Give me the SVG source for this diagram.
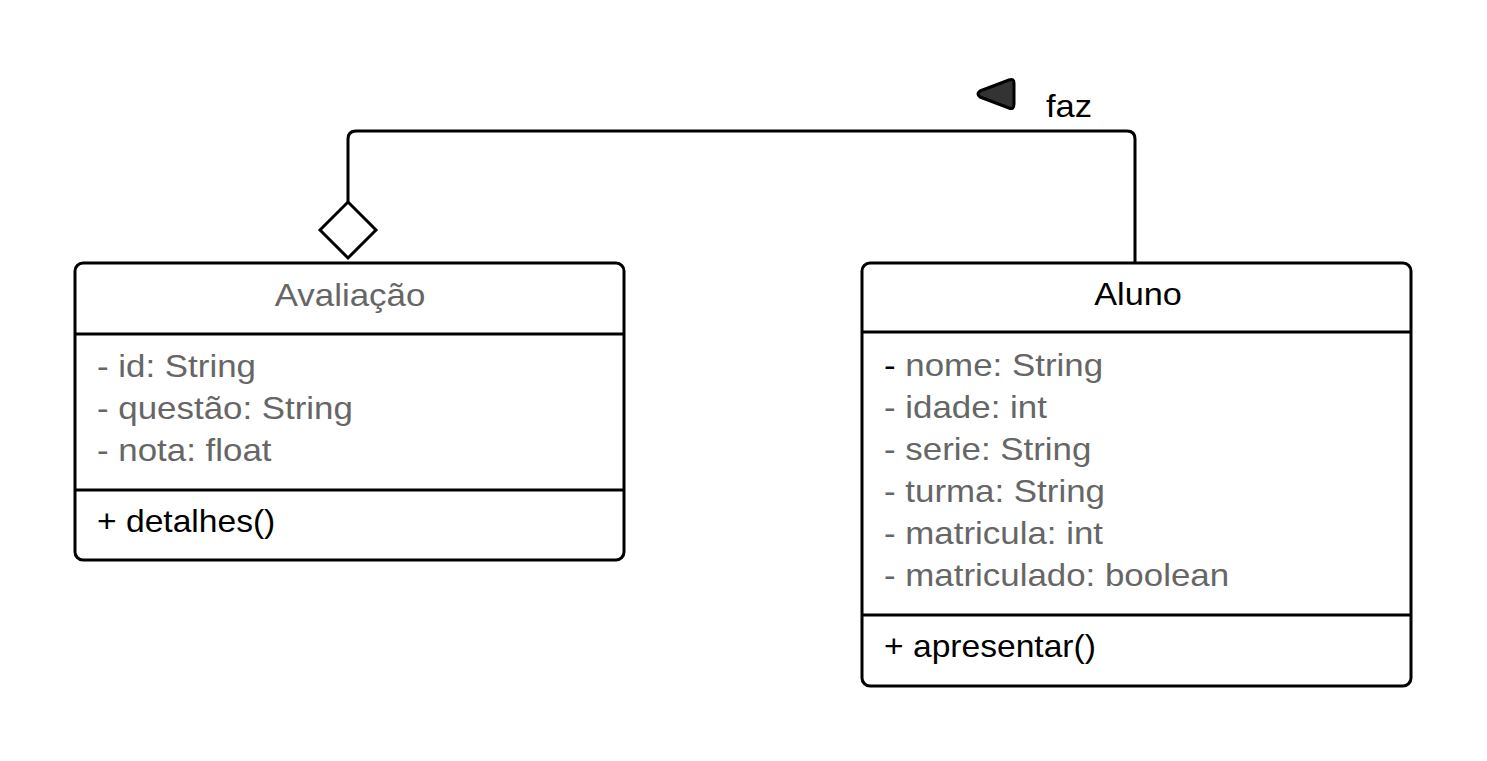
<svg xmlns="http://www.w3.org/2000/svg" width="1487" height="761" viewBox="0 0 1487 761">
<style>
.box{fill:#fff;stroke:#000;stroke-width:3}
.div{stroke:#000;stroke-width:3}
.t{font-family:"Liberation Sans",Arial,sans-serif;font-size:32px}
.g{fill:#666}
.k{fill:#000}
</style>
<rect width="1487" height="761" fill="#fff"/>
<g id="connectors">
<path d="M348 202 V139 Q348 131 356 131 H1127 Q1135 131 1135 139 V262" fill="none" stroke="#000" stroke-width="3"/>
<polygon points="348,202 376,230 348,258 320,230" fill="#fff" stroke="#000" stroke-width="3"/>
<path d="M980 91 L1009 80 Q1014 78 1014 83 V104 Q1014 110 1009 108 L980 97 Q976 94 980 91 Z" fill="#333" stroke="#000" stroke-width="3" stroke-linejoin="round"/>
<text class="t k" transform="translate(1046 117) scale(1.08 1)">faz</text>
</g>
<g id="avaliacao">
<rect class="box" x="75" y="263" width="549" height="297" rx="8"/>
<line class="div" x1="75" y1="334" x2="624" y2="334"/>
<line class="div" x1="75" y1="490" x2="624" y2="490"/>
<text class="t g" text-anchor="middle" transform="translate(350 306) scale(1.09 1)">Avaliação</text>
<text class="t g" transform="translate(97 377) scale(1.09 1)">- id: String</text>
<text class="t g" transform="translate(97 419) scale(1.09 1)">- questão: String</text>
<text class="t g" transform="translate(97 461) scale(1.09 1)">- nota: float</text>
<text class="t k" transform="translate(97 532) scale(1.05 1)">+ detalhes()</text>
</g>
<g id="aluno">
<rect class="box" x="862" y="263" width="549" height="423" rx="8"/>
<line class="div" x1="862" y1="332" x2="1411" y2="332"/>
<line class="div" x1="862" y1="615" x2="1411" y2="615"/>
<text class="t k" text-anchor="middle" transform="translate(1138 305) scale(1.07 1)">Aluno</text>
<text class="t g" transform="translate(884 376) scale(1.09 1)"><tspan class="k">-</tspan> nome: String</text>
<text class="t g" transform="translate(884 418) scale(1.09 1)">- idade: int</text>
<text class="t g" transform="translate(884 460) scale(1.09 1)">- serie: String</text>
<text class="t g" transform="translate(884 502) scale(1.09 1)">- turma: String</text>
<text class="t g" transform="translate(884 544) scale(1.09 1)">- matricula: int</text>
<text class="t g" transform="translate(884 586) scale(1.09 1)">- matriculado: boolean</text>
<text class="t k" transform="translate(884 657) scale(1.05 1)">+ apresentar()</text>
</g>
</svg>
